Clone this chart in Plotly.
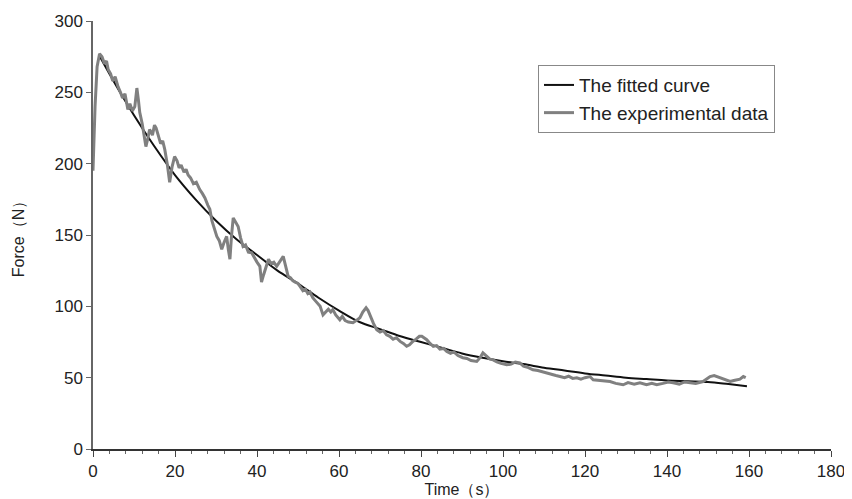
import plotly.graph_objects as go

# Fitted curve
fit_t = [1.5, 5, 10, 15, 20, 25, 30, 35, 40, 45, 50, 55, 60, 65, 70, 75, 80, 85, 90,
         95, 100, 105, 110, 115, 120, 125, 130, 135, 140, 145, 150, 155, 159.5]
fit_f = [276, 258, 234, 212, 192, 175, 160, 147, 136, 125, 116, 106, 97, 89, 84, 79,
         75, 71, 67, 64, 61.5, 59.5, 57, 55, 53, 51.5, 50, 49, 48, 47.5, 47, 45.5, 44]

exp_t = [0, 0.5, 1.0, 1.6, 2.2, 2.8, 3.3, 3.7, 4.3, 4.8, 5.4, 6.1, 6.7, 7.2, 7.8, 8.5,
         9.0, 9.6, 10.2, 10.7, 11.1, 11.4, 12.0, 12.5, 12.9, 13.4, 13.8, 14.5, 15.0,
         15.4, 16.0, 16.5, 17.0, 17.5, 18.1, 18.7, 19.3, 19.9, 20.5, 21.0, 21.5, 22.2,
         22.7, 23.2, 23.8, 24.5, 25.2, 26.0, 26.7, 27.3, 28.0, 28.5, 29.0, 29.5, 30.2,
         30.8, 31.4, 32.0, 32.6, 33.0, 33.4, 33.8, 34.2, 34.8, 35.4, 36.0, 36.6, 37.2,
         37.9, 38.7, 39.3, 40.0, 40.7, 41.1, 41.6, 42.2, 42.8, 43.4, 44.1, 44.8, 45.5,
         46.0, 46.4, 47.0, 47.6, 48.2, 48.7, 49.3, 50.0, 50.5, 51.2, 51.8, 52.4, 52.9,
         53.6, 54.2, 54.8, 55.4, 56.1, 56.8, 57.4, 58.0, 58.5, 59.2, 60.2, 60.8, 61.5,
         62.3, 63.4, 64.2, 65.1, 65.8, 66.6, 67.1, 67.6, 68.4, 69.2, 70.0, 70.8, 71.6,
         72.4, 73.2, 74.0, 74.9, 75.7, 76.5, 77.2, 78.0, 78.8, 79.6, 80.2, 81.4, 82.2,
         83.0, 83.8, 84.6, 85.5, 86.3, 87.2, 88.0, 89.0, 90.2, 91.2, 92.2, 93.6, 94.4,
         95.1, 96.0, 96.8, 97.6, 98.5, 99.5, 100.9, 102.0, 103.0, 104.1, 105.0, 106.2,
         107.3, 108.5, 109.6, 110.7, 111.8, 112.9, 113.9, 115.0, 116.0, 117.0, 118.0,
         119.0, 120.0, 121.2, 122.0, 123.5, 125.0, 126.1, 127.5, 129.3, 130.5, 132.0,
         133.4, 135.0, 136.3, 137.5, 139.0, 140.3, 141.5, 143.0, 144.3, 145.6, 147.0,
         148.8, 149.6, 150.5, 151.5, 152.9, 154.0, 155.4, 156.3, 157.0, 157.8, 158.6,
         159.2]
exp_f = [195, 240, 268, 277, 275, 270, 272, 266, 263, 258, 261, 254, 250, 246, 249, 238,
         242, 237, 240, 253, 244, 236, 228, 220, 212, 218, 224, 220, 227,
         225, 219, 214, 216, 210, 200, 187, 198, 205, 202, 197, 199, 194,
         196, 192, 190, 186, 187, 182, 179, 176, 171, 168, 160, 155, 149,
         146, 140, 145, 149, 140, 133, 150, 162, 159, 156, 148, 142, 143,
         138, 137.5, 134, 131, 128, 117, 122, 128, 133, 130, 131, 128, 131,
         133, 135, 128, 121, 120, 118, 117, 116, 114, 111, 112, 109, 110,
         106, 104, 102, 100, 94, 96, 98, 96, 97.7, 94, 90.6, 93, 90,
         89, 88.5, 90, 92, 96, 99, 97, 93, 88, 83.6, 82, 83, 80,
         79, 77, 78, 75.4, 74, 72, 73, 75.4, 77, 79, 79, 76.6, 74,
         72, 72.5, 70, 70.5, 68.4, 67, 68, 65.5, 64, 63.5, 62, 61.4, 64,
         67.4, 65, 63, 62.5, 61, 60, 59, 59.5, 61, 60.4, 58, 57,
         55.5, 55, 54, 53.4, 52, 51.5, 50.8, 50, 51, 49.5, 49.9,
         49, 50, 50.8, 48.5, 48, 47.5, 47.3, 46, 45, 46.5, 45.5,
         46.4, 45, 46, 45, 46, 47, 46.4, 45.5, 47, 46.4, 46,
         47.3, 49, 50.8, 51.5, 50, 49, 47.3, 48, 48.5, 49, 50.8,
         50]

x_ticks = [0, 20, 40, 60, 80, 100, 120, 140, 160, 180]
y_ticks = [0, 50, 100, 150, 200, 250, 300]

fig = go.Figure()
fig.add_trace(go.Scatter(x=fit_t, y=fit_f, mode="lines", name="The fitted curve",
                         legendgroup="a",
                         line=dict(color="#111111", width=2, shape="spline")))
fig.add_trace(go.Scatter(x=exp_t, y=exp_f, mode="lines", name="The experimental data",
                         legendgroup="b",
                         line=dict(color="#808080", width=3)))

font = "Liberation Sans, Arial, sans-serif"
fig.update_layout(
    width=844, height=491,
    margin=dict(l=85, r=21, t=13, b=50),
    paper_bgcolor="white", plot_bgcolor="white",
    font=dict(family=font, size=16, color="#222222"),
    legend=dict(x=0.603, y=0.897, xanchor="left", yanchor="top",
                bordercolor="#888888", borderwidth=1, bgcolor="white",
                font=dict(size=19, color="#222222"), traceorder="grouped",
                itemwidth=30, tracegroupgap=0),
    xaxis=dict(range=[0, 180], tickvals=x_ticks, ticks="outside", ticklen=6,
               tickcolor="#444444", showline=True, linecolor="#333333", linewidth=1.5,
               showgrid=False, zeroline=False, tickfont=dict(size=17), automargin=False,
               minor=dict(dtick=4, ticks="outside", ticklen=3, tickcolor="#666666"),
               title=dict(text="Time（s）", font=dict(size=16), standoff=3)),
    yaxis=dict(range=[0, 300], tickvals=y_ticks, ticks="outside", ticklen=5,
               tickcolor="#666666", showline=True, linecolor="#666666", linewidth=1.5,
               showgrid=False, zeroline=False, tickfont=dict(size=17), automargin=False,
               title=dict(text="Force（N）", font=dict(size=16), standoff=26)),
)

fig.write_html("out.html")
